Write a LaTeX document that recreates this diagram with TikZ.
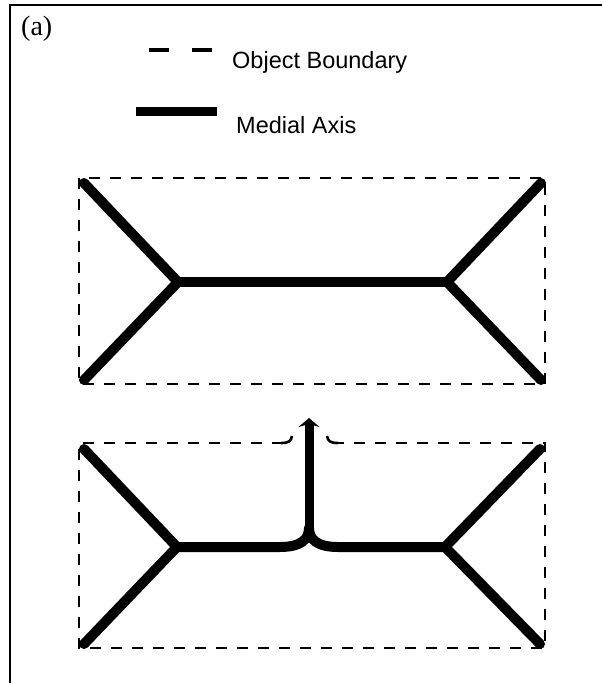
\documentclass[tikz,border=0pt]{standalone}
\usepackage{fontspec}
\setmainfont{Liberation Sans}
\newfontfamily\labelfont{Liberation Serif}
\usetikzlibrary{arrows.meta}
\definecolor{BLACK}{HTML}{000000}
\tikzset{
    boundary/.style={BLACK, line width=2.6pt, dash pattern=on 11pt off 10pt},
    medial/.style={BLACK, line width=10pt, line cap=round, line join=round},
    legendtext/.style={anchor=west, inner sep=0pt, font=\fontsize{23.5}{28}\selectfont}
}
\begin{document}
\begin{tikzpicture}[x=1pt, y=-1pt]
    \useasboundingbox (0,0) rectangle (602,683);
    % frame
    \draw[BLACK, line width=2pt] (10,683) -- (10,5) -- (602,5);
    \node[anchor=west, inner sep=0pt, font=\labelfont\fontsize{28}{32}\selectfont] (tag) at (21,29) {(a)};
    % legend
    \draw[BLACK, line width=4.5pt, dash pattern=on 20pt off 23pt] (149,50) -- (215,50);
    \node[legendtext] (boundarytext) at (232,62) {Object Boundary};
    \draw[BLACK, line width=9pt] (136,111) -- (217,111);
    \node[legendtext] (medialtext) at (236,125) {Medial Axis};
    % full rectangle
    \draw[boundary] (79,178) rectangle (545,384);
    \draw[medial] (84,183) -- (178,282) -- (84,380);
    \draw[medial] (178,282) -- (447,282);
    \draw[medial] (541,183) -- (447,282) -- (541,380);
    % rectangle with protrusion
    \draw[boundary] (283,443) -- (79,443) -- (79,648) -- (545,648) -- (545,443) -- (336,443);
    \draw[BLACK, line width=2.6pt] (281,443) .. controls (289,443) and (291,441) .. (292,436);
    \draw[BLACK, line width=2.6pt] (338,443) .. controls (330,443) and (328,441) .. (327,436);
    \draw[medial] (84,449) -- (177,547) -- (84,644);
    \draw[medial] (540,449) -- (445,547) -- (540,644);
    \draw[medial] (177,547) -- (280,547) .. controls (300,547) and (309,540) .. (309,528);
    \draw[medial] (445,547) -- (338,547) .. controls (318,547) and (309,540) .. (309,528);
    \draw[BLACK, line width=9pt, -{Stealth[length=9pt, width=21pt, inset=3pt]}] (309,530) -- (309,418);
\end{tikzpicture}
\end{document}
